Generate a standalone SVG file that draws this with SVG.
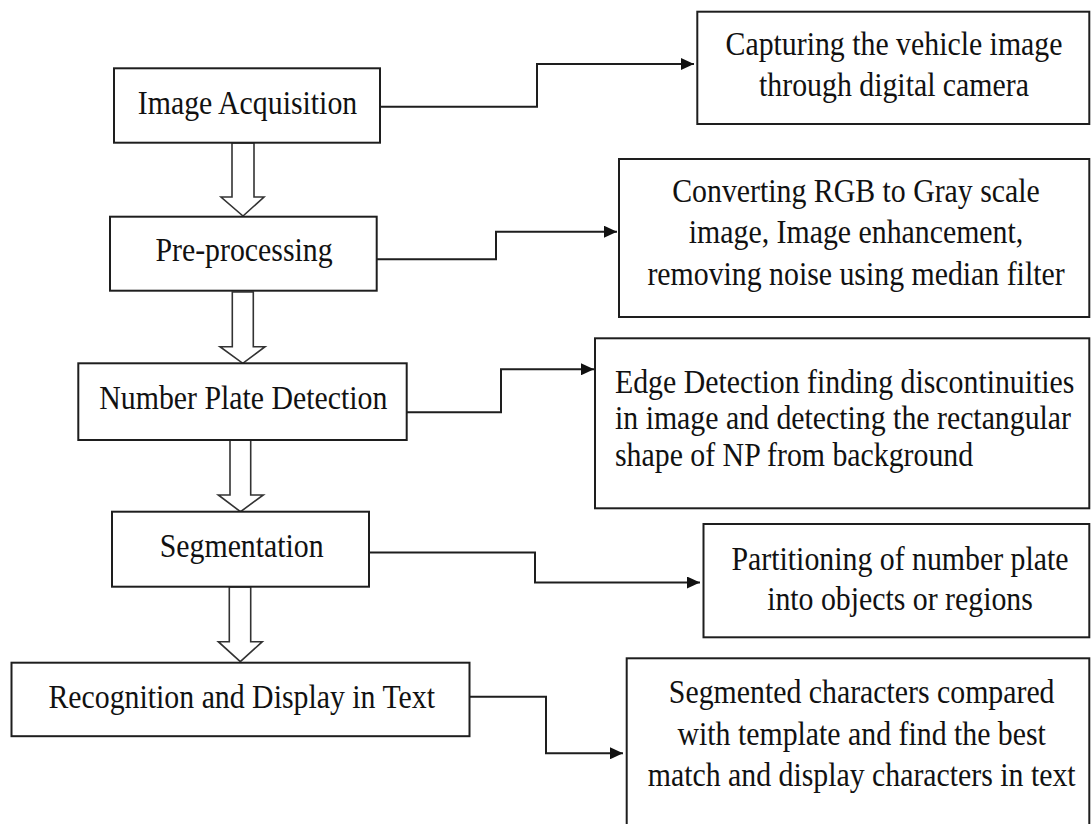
<svg xmlns="http://www.w3.org/2000/svg" width="1091" height="824" viewBox="0 0 1091 824">
<defs>
<style>
.box{fill:#fff;stroke:#1e1e1e;stroke-width:2}
.con{fill:none;stroke:#1e1e1e;stroke-width:2}
.blk{fill:#fff;stroke:#333;stroke-width:1.6;stroke-linejoin:miter}
text{font-family:"Liberation Serif","Times New Roman",serif;font-size:33.5px;fill:#111}
.c{text-anchor:middle}
</style>
<marker id="ah" markerUnits="userSpaceOnUse" markerWidth="14" markerHeight="12" refX="13" refY="6" orient="auto">
<path d="M0,0 L13,6 L0,12 z" fill="#111"/>
</marker>
</defs>
<rect width="1091" height="824" fill="#fff"/>

<g id="connectors">
<path class="con" d="M380,106.7 H537 V64 H694" marker-end="url(#ah)"/>
<path class="con" d="M377,259.3 H496 V231.7 H617" marker-end="url(#ah)"/>
<path class="con" d="M407,412.3 H501 V369.3 H594" marker-end="url(#ah)"/>
<path class="con" d="M369,552.5 H535 V582.5 H700" marker-end="url(#ah)"/>
<path class="con" d="M470,696.7 H546 V753.3 H623" marker-end="url(#ah)"/>
<polygon class="blk" points="232,143 254,143 254,197 264,197 243,216 221,197 232,197"/>
<polygon class="blk" points="232.3,292 253.3,292 253.3,346.7 265,346.7 242.8,363.3 220,346.7 232.3,346.7"/>
<polygon class="blk" points="230,440 250.7,440 250.7,495 263.3,495 240.5,511.7 218.3,495 230,495"/>
<polygon class="blk" points="229.3,587 250.7,587 250.7,641.7 262.3,641.7 240.3,661.7 218.3,641.7 229.3,641.7"/>
</g>

<g id="n1">
<rect class="box" x="114" y="68.3" width="266" height="74.4"/>
<text class="c" transform="matrix(0.89 0 0 1 247.5 0)" x="0" y="114.3">Image Acquisition</text>
</g>
<g id="n2">
<rect class="box" x="110" y="216.7" width="266.7" height="74"/>
<text class="c" transform="matrix(0.89 0 0 1 244 0)" x="0" y="260.7">Pre-processing</text>
</g>
<g id="n3">
<rect class="box" x="78.3" y="363.3" width="328.4" height="76.7"/>
<text class="c" transform="matrix(0.89 0 0 1 243.3 0)" x="0" y="409.3">Number Plate Detection</text>
</g>
<g id="n4">
<rect class="box" x="112" y="511.7" width="257" height="75"/>
<text class="c" transform="matrix(0.89 0 0 1 241.7 0)" x="0" y="556.7">Segmentation</text>
</g>
<g id="n5">
<rect class="box" x="11.5" y="662.7" width="458" height="73.5"/>
<text class="c" transform="matrix(0.89 0 0 1 241.7 0)" x="0" y="707.7">Recognition and Display in Text</text>
</g>

<g id="d1">
<rect class="box" x="697.3" y="11.7" width="392" height="112.3"/>
<text class="c" transform="matrix(0.89 0 0 1 894 0)" x="0" y="55">Capturing the vehicle image</text>
<text class="c" transform="matrix(0.89 0 0 1 894 0)" x="0" y="96">through digital camera</text>
</g>
<g id="d2">
<rect class="box" x="619" y="159" width="470.3" height="158"/>
<text class="c" transform="matrix(0.89 0 0 1 856 0)" x="0" y="202">Converting RGB to Gray scale</text>
<text class="c" transform="matrix(0.89 0 0 1 856 0)" x="0" y="243.5">image, Image enhancement,</text>
<text class="c" transform="matrix(0.89 0 0 1 856 0)" x="0" y="285">removing noise using median filter</text>
</g>
<g id="d3">
<rect class="box" x="595" y="338.3" width="494.3" height="170"/>
<text transform="matrix(0.89 0 0 1 615 0)" x="0" y="392.7">Edge Detection finding discontinuities</text>
<text transform="matrix(0.89 0 0 1 615 0)" x="0" y="429.3">in image and detecting the rectangular</text>
<text transform="matrix(0.89 0 0 1 615 0)" x="0" y="465.7">shape of NP from background</text>
</g>
<g id="d4">
<rect class="box" x="703.5" y="524" width="385.8" height="113.3"/>
<text class="c" transform="matrix(0.89 0 0 1 900 0)" x="0" y="570">Partitioning of number plate</text>
<text class="c" transform="matrix(0.89 0 0 1 900 0)" x="0" y="610">into objects or regions</text>
</g>
<g id="d5">
<rect class="box" x="626.7" y="658.3" width="462.6" height="175"/>
<text class="c" transform="matrix(0.89 0 0 1 861.7 0)" x="0" y="703.3">Segmented characters compared</text>
<text class="c" transform="matrix(0.89 0 0 1 861.7 0)" x="0" y="745">with template and find the best</text>
<text class="c" transform="matrix(0.89 0 0 1 861.7 0)" x="0" y="786">match and display characters in text</text>
</g>
</svg>
